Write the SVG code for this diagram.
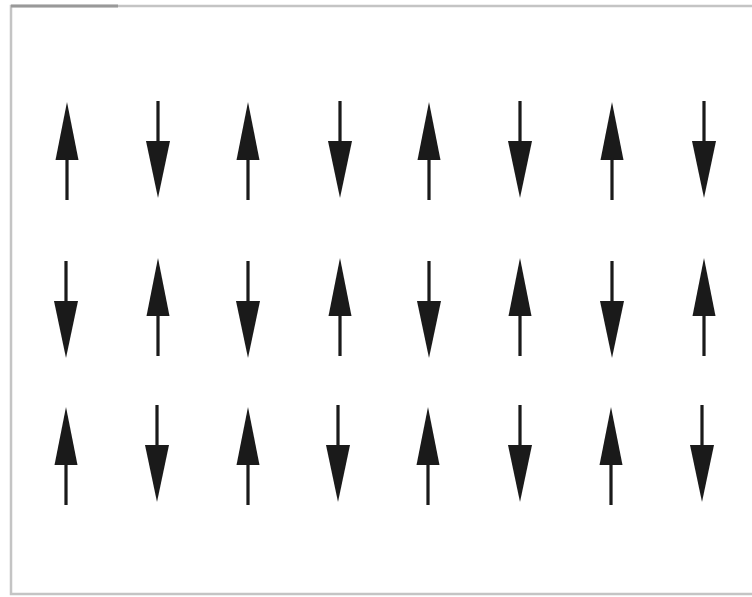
<svg xmlns="http://www.w3.org/2000/svg" xmlns:xlink="http://www.w3.org/1999/xlink" width="752" height="597" viewBox="0 0 752 597">
<style>
.frame{fill:none;stroke:#c4c4c4;stroke-width:2.5}
.arr{fill:#1a1a1a;stroke:none}
</style>
<defs>
<g id="up"><polygon points="0,0 11.5,58 -11.5,58"/><rect x="-1.6" y="56" width="3.2" height="42"/></g>
<g id="down"><rect x="-1.6" y="0" width="3.2" height="42"/><polygon points="-12,40 12,40 0,97"/></g>
</defs>
<polyline class="frame" points="752,6 11,6 11,594 752,594"/>
<line x1="11" y1="6" x2="118" y2="6" stroke="#999" stroke-width="3"/>
<g id="row1" class="arr">
<g id="n1_1"><use xlink:href="#up" x="67" y="102"/></g>
<g id="n1_2"><use xlink:href="#down" x="158" y="101"/></g>
<g id="n1_3"><use xlink:href="#up" x="248" y="102"/></g>
<g id="n1_4"><use xlink:href="#down" x="340" y="101"/></g>
<g id="n1_5"><use xlink:href="#up" x="429" y="102"/></g>
<g id="n1_6"><use xlink:href="#down" x="520" y="101"/></g>
<g id="n1_7"><use xlink:href="#up" x="612" y="102"/></g>
<g id="n1_8"><use xlink:href="#down" x="704" y="101"/></g>
</g>
<g id="row2" class="arr">
<g id="n2_1"><use xlink:href="#down" x="66" y="261"/></g>
<g id="n2_2"><use xlink:href="#up" x="158" y="258"/></g>
<g id="n2_3"><use xlink:href="#down" x="248" y="261"/></g>
<g id="n2_4"><use xlink:href="#up" x="340" y="258"/></g>
<g id="n2_5"><use xlink:href="#down" x="429" y="261"/></g>
<g id="n2_6"><use xlink:href="#up" x="520" y="258"/></g>
<g id="n2_7"><use xlink:href="#down" x="612" y="261"/></g>
<g id="n2_8"><use xlink:href="#up" x="704" y="258"/></g>
</g>
<g id="row3" class="arr">
<g id="n3_1"><use xlink:href="#up" x="66" y="407"/></g>
<g id="n3_2"><use xlink:href="#down" x="157" y="405"/></g>
<g id="n3_3"><use xlink:href="#up" x="248" y="407"/></g>
<g id="n3_4"><use xlink:href="#down" x="338" y="405"/></g>
<g id="n3_5"><use xlink:href="#up" x="428" y="407"/></g>
<g id="n3_6"><use xlink:href="#down" x="520" y="405"/></g>
<g id="n3_7"><use xlink:href="#up" x="611" y="407"/></g>
<g id="n3_8"><use xlink:href="#down" x="702" y="405"/></g>
</g>
<g id="connectors"/>
</svg>
